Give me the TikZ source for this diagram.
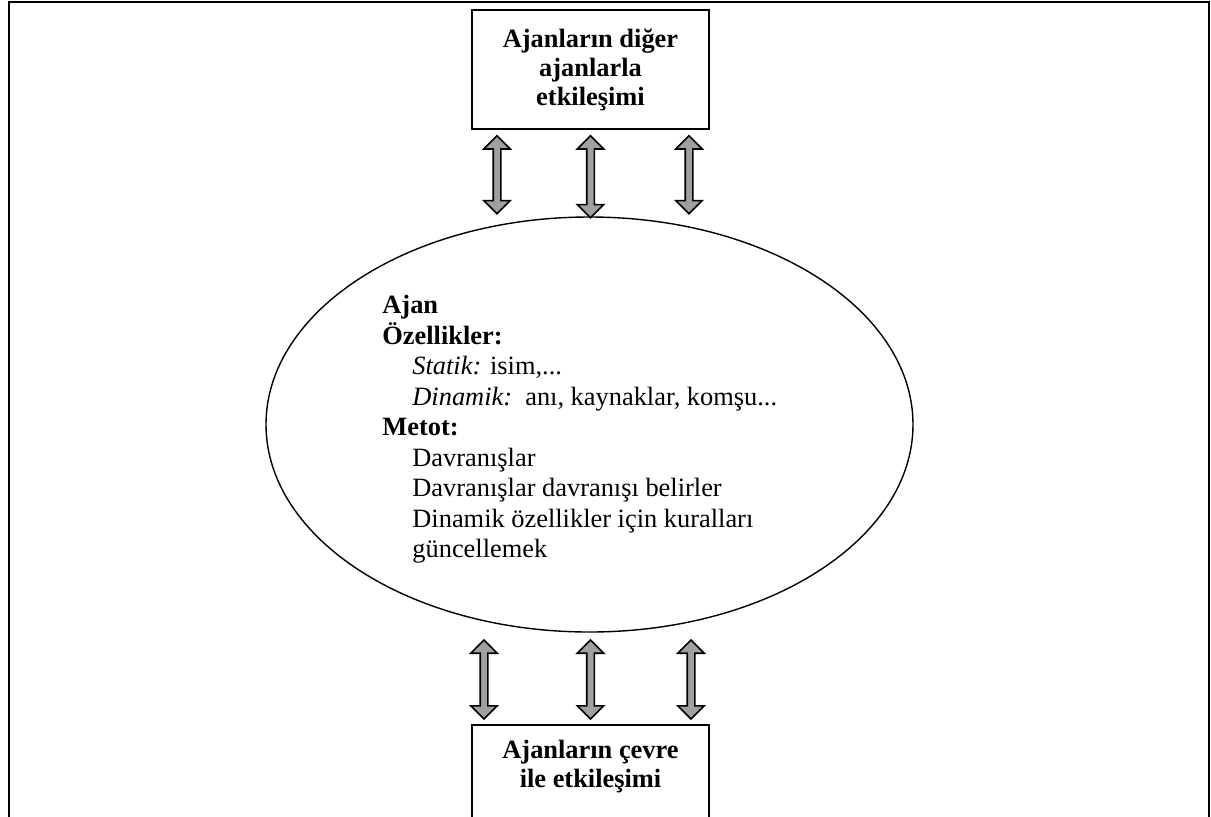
\documentclass[tikz,border=0pt]{standalone}
\usepackage{fontspec}
\setmainfont{Liberation Serif}
\usepackage{tikz}
\usetikzlibrary{shapes.geometric, calc, positioning}
\definecolor{arrowgray}{RGB}{160,160,160}
\newcommand{\twoway}[2]{\draw[twoway] let \p1=(#1), \p2=(#2) in
  (\x1,\y1) -- (\x1+6.6pt,\y1-6.6pt) -- (\x1+1.9pt,\y1-6.6pt) -- (\x1+1.9pt,\y2+6.6pt) -- (\x1+6.6pt,\y2+6.6pt)
  -- (\x1,\y2) -- (\x1-6.6pt,\y2+6.6pt) -- (\x1-1.9pt,\y2+6.6pt) -- (\x1-1.9pt,\y1-6.6pt) -- (\x1-6.6pt,\y1-6.6pt) -- cycle;}
\tikzset{
  box/.style={draw, line width=0.8pt, minimum width=118.5pt},
  boxtext/.style={inner sep=0pt, align=center, font=\fontsize{13.2}{14.5}\selectfont\bfseries},
  twoway/.style={draw=black, fill=arrowgray, line width=0.8pt, line join=miter}
}

\begin{document}
\begin{tikzpicture}[x=0.5pt, y=-0.5pt]
    \useasboundingbox (0,0) rectangle (1211,816);
    \clip (0,0) rectangle (1211,816);
    \draw[line width=1.2pt] (9,830) |- (1209,2) -- (1209,830);

    \node[box, boxtext, inner sep=0pt, minimum height=59.5pt] (others) at (590.5,69.5) {Ajanların diğer\\ajanlarla\\etkileşimi};
    \node[draw, ellipse, line width=0.7pt, minimum width=323.5pt, minimum height=207.5pt, inner sep=0pt] (agent) at (589.5,424.5) {};
    \node[anchor=north west, inner sep=0pt, align=left, font=\fontsize{13.2}{15.25}\selectfont] (props) at (382,295) {\textbf{Ajan}\\
        \textbf{Özellikler:}\\
        \hspace*{15pt}\textit{Statik:} isim,...\\
        \hspace*{15pt}\textit{Dinamik:}\ \ anı, kaynaklar, komşu...\\
        \textbf{Metot:}\\
        \hspace*{15pt}Davranışlar\\
        \hspace*{15pt}Davranışlar davranışı belirler\\
        \hspace*{15pt}Dinamik özellikler için kuralları\\
        \hspace*{15pt}güncellemek};
    \node[box, anchor=north, minimum height=60pt] (env) at (590.5,724) {};
    \node[boxtext, anchor=north] (envlabel) at (590.5,740) {Ajanların çevre\\ile etkileşimi};

    \foreach \dx/\dy in {-93.5/84, 0/88, 98.5/84}
        \twoway{$(others.south)+(\dx,6)$}{$(others.south)+(\dx,\dy)$};
    \foreach \dx in {-106.5, 0, 100.5}
        \twoway{$(env.north)+(\dx,-84)$}{$(env.north)+(\dx,-5)$};
\end{tikzpicture}
\end{document}
